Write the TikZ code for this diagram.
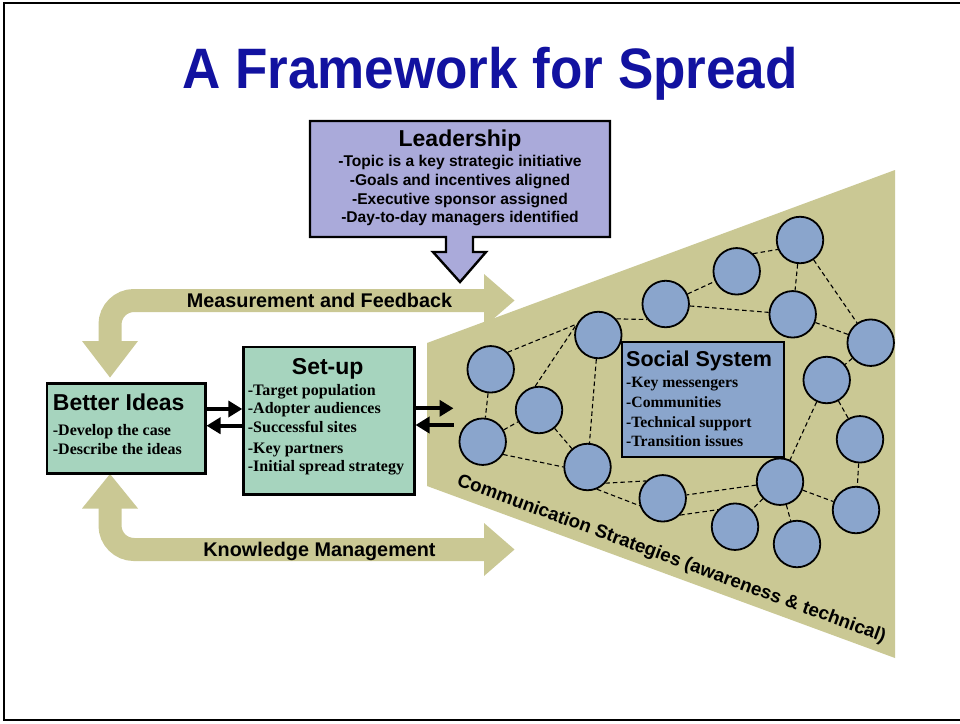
\documentclass[tikz,border=0pt]{standalone}
\usepackage{fontspec}
\usepackage{graphicx}
\setmainfont{Liberation Serif}
\newfontfamily\sansf{Liberation Sans}
\usetikzlibrary{arrows.meta}

\definecolor{sandtan}{RGB}{202,200,148}
\definecolor{lavender}{RGB}{170,170,218}
\definecolor{mint}{RGB}{166,212,190}
\definecolor{nodeblue}{RGB}{138,165,204}
\definecolor{titleblue}{RGB}{18,18,160}

\tikzset{
  boxbase/.style={draw=black, line width=2.2pt, inner sep=0pt, anchor=north west},
  titletext/.style={font=\sansf\bfseries\fontsize{57}{64}\selectfont, text=titleblue, inner sep=0pt, anchor=base},
  hd/.style={font=\sansf\bfseries\fontsize{23}{26}\selectfont, inner sep=0pt},
  leaditem/.style={font=\sansf\bfseries\fontsize{15.6}{18}\selectfont, inner sep=0pt, anchor=base},
  item/.style={font=\bfseries\fontsize{16}{18}\selectfont, inner sep=0pt, anchor=base west},
  person/.style={circle, draw=black, line width=1.8pt, fill=nodeblue, minimum size=46.5pt, inner sep=0pt},
  tie/.style={draw=black, line width=1.1pt, dash pattern=on 4.5pt off 3pt},
  band/.style={draw=sandtan, line width=23pt, rounded corners=24pt},
  shortarrow/.style={draw=black, line width=4pt, -{Triangle[length=14pt, width=16pt]}},
  bandlabel/.style={font=\sansf\bfseries\fontsize{19.8}{22}\selectfont, inner sep=0pt, anchor=base}
}

\begin{document}
\begin{tikzpicture}[x=1pt,y=-1pt]
\useasboundingbox (0,0) rectangle (960,723);
\clip (0,0) rectangle (960,723);
\fill[white] (0,0) rectangle (960,723);
\draw[line width=2pt] (4,3) rectangle (990,720);

% title
\node[titletext] (title) at (490,88) {\scalebox{0.93}[1]{A Framework for Spread}};

% widening region of the social system
\fill[sandtan] (427,343) -- (895,170) -- (895,658) -- (427,486) -- cycle;

% feedback loops back to the ideas
\draw[band] (110,342) -- (110,300.5) -- (485,300.5);
\fill[sandtan] (82,341) -- (138,341) -- (110,377.5) -- cycle;
\fill[sandtan] (484,274) -- (484,327) -- (514.5,300.5) -- cycle;
\draw[band] (110,507) -- (110,549.5) -- (485,549.5);
\fill[sandtan] (82,508.5) -- (138,508.5) -- (110,474) -- cycle;
\fill[sandtan] (484,523) -- (484,576) -- (514.5,549.5) -- cycle;
\node[bandlabel] (mf) at (319.5,307.7) {Measurement and Feedback};
\node[bandlabel] (km) at (319.5,556) {Knowledge Management};

% leadership call-out with its arrow
\filldraw[fill=lavender, draw=black, line width=2.4pt, line join=miter]
  (310,121) -- (610,121) -- (610,237) -- (473,237) -- (473,252) -- (486,252)
  -- (460,282) -- (433,252) -- (446,252) -- (446,237) -- (310,237) -- cycle;
\node[hd, anchor=base] (leadh) at (460,146.7) {Leadership};
\node[leaditem] (l1) at (460,166.7) {-Topic is a key strategic initiative};
\node[leaditem] (l2) at (460,185.3) {-Goals and incentives aligned};
\node[leaditem] (l3) at (460,204) {-Executive sponsor assigned};
\node[leaditem] (l4) at (460,222.7) {-Day-to-day managers identified};

% better ideas
\node[boxbase, fill=mint, minimum width=158.6pt, minimum height=90pt] (bi) at (45.7,382.3) {};
\node[hd, anchor=base west] (bih) at (52.7,410.7) {Better Ideas};
\node[item] (b1) at (52.7,435.7) {-Develop the case};
\node[item] (b2) at (52.7,454.3) {-Describe the ideas};

% set-up
\node[boxbase, fill=mint, minimum width=171pt, minimum height=147.3pt] (su) at (242.3,346) {};
\node[hd, anchor=base] (suh) at (327.7,374.3) {Set-up};
\node[item] (s1) at (247.7,395) {-Target population};
\node[item] (s2) at (247.7,413.3) {-Adopter audiences};
\node[item] (s3) at (247.7,432.3) {-Successful sites};
\node[item] (s4) at (247.7,453.3) {-Key partners};
\node[item] (s5) at (247.7,471.7) {-Initial spread strategy};

% exchange arrows
\coordinate (rowa) at (0,409);
\coordinate (rowb) at (0,425.7);
\coordinate (rowc) at (0,408.3);
\coordinate (rowd) at (0,425);
\coordinate (outa) at (453.5,408.3);
\coordinate (outb) at (453.5,425);
\draw[shortarrow] (bi.east |- rowa) -- (su.west |- rowa);
\draw[shortarrow] (su.west |- rowb) -- (bi.east |- rowb);
\draw[shortarrow] (su.east |- rowc) -- (outa);
\draw[shortarrow] (outb) -- (su.east |- rowd);

% members of the social system
\node[person] (c1) at (490.7,369.3) {};
\node[person] (c2) at (482.7,441.7) {};
\node[person] (c3) at (539,410) {};
\node[person] (c4) at (587.5,467) {};
\node[person] (c5) at (598.3,335) {};
\node[person] (c6) at (665.7,304) {};
\node[person] (c7) at (736.7,271.3) {};
\node[person] (c8) at (800,240) {};
\node[person] (c9) at (792.7,314.3) {};
\node[person] (c10) at (870.7,342.7) {};
\node[person] (c11) at (826.7,380) {};
\node[person] (c12) at (860,439.3) {};
\node[person] (c13) at (780,481.7) {};
\node[person] (c14) at (856,510) {};
\node[person] (c15) at (662.7,498.3) {};
\node[person] (c16) at (735,526.7) {};
\node[person] (c17) at (797,544) {};

% ties between members
\draw[tie] (c1) -- (c2);
\draw[tie] (c1.45) -- (c5.153);
\draw[tie] (c2) -- (c3);
\draw[tie] (c3.99) -- (c5.153);
\draw[tie] (c3) -- (c4);
\draw[tie] (c2.-32) -- (c4.180);
\draw[tie] (c5) -- (c4);
\draw[tie] (c5.42) -- (c6.220);
\draw[tie] (c6) -- (c7);
\draw[tie] (c7.47) -- (c8.203);
\draw[tie] (c6) -- (c9);
\draw[tie] (c8) -- (c9);
\draw[tie] (c8) -- (c10);
\draw[tie] (c9) -- (c10);
\draw[tie] (c10) -- (c11);
\draw[tie] (c11) -- (c12);
\draw[tie] (c11) -- (c13);
\draw[tie] (c12) -- (c14);
\draw[tie] (c13) -- (c14);
\draw[tie] (c13) -- (c15);
\draw[tie] (c13) -- (c16);
\draw[tie] (c13) -- (c17);
\draw[tie] (c15.-44) -- (c16.135);
\draw[tie] (c4.-42) -- (c15.134);
\draw[tie] (c4.-67) -- (c15.198);

% social system
\node[boxbase, fill=nodeblue, line width=2pt, minimum width=162.6pt, minimum height=115.3pt] (ss) at (620.7,340.7) {};
\node[font=\sansf\bfseries\fontsize{21.5}{24}\selectfont, inner sep=0pt, anchor=base west] (ssh) at (626,366.7) {Social System};
\node[item, font=\bfseries\fontsize{15.7}{18}\selectfont] (m1) at (626,387.7) {-Key messengers};
\node[item, font=\bfseries\fontsize{15.7}{18}\selectfont] (m2) at (626,407.7) {-Communities};
\node[item, font=\bfseries\fontsize{15.7}{18}\selectfont] (m3) at (626,427.7) {-Technical support};
\node[item, font=\bfseries\fontsize{15.7}{18}\selectfont] (m4) at (626,446.7) {-Transition issues};

% communication label along the lower edge
\node[font=\sansf\bfseries\fontsize{18.7}{21}\selectfont, inner sep=0pt, anchor=base west, rotate=-20.2] (comm) at (456,485) {Communication Strategies (awareness \& technical)};
\end{tikzpicture}
\end{document}
